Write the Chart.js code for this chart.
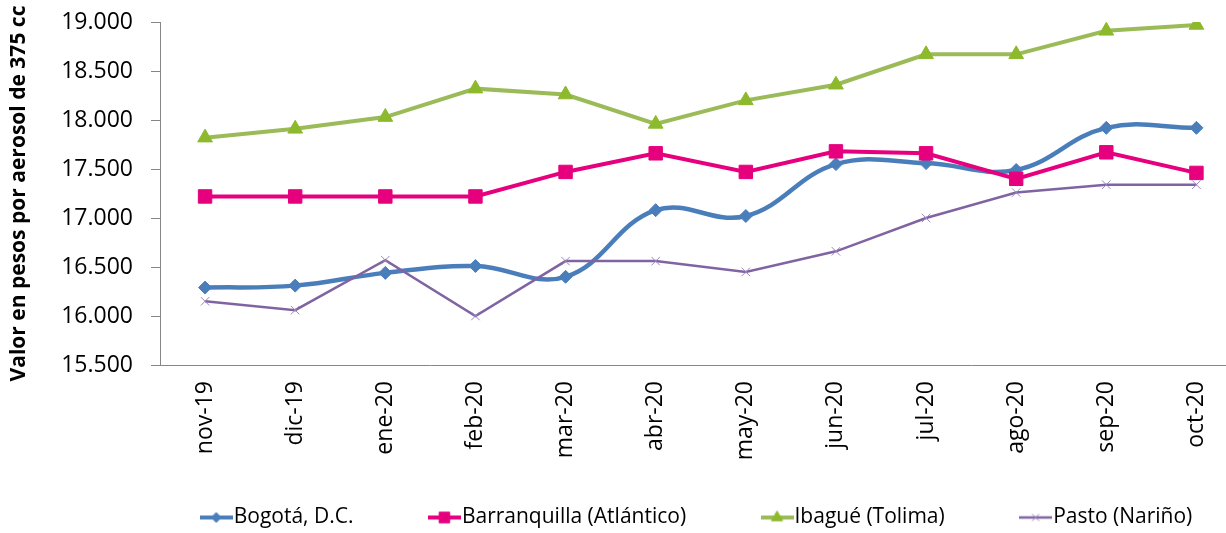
<!DOCTYPE html>
<html>
<head>
<meta charset="utf-8">
<script src="https://cdn.jsdelivr.net/npm/chart.js@4.4.1/dist/chart.umd.min.js"></script>
<style>
  html, body { margin: 0; padding: 0; background: #fff; overflow: hidden; }
  #wrap { width: 1252px; height: 538px; position: relative; }
</style>
</head>
<body>
<div id="wrap"><canvas id="myChart"></canvas></div>
<script>
let months = ["nov-19", "dic-19", "ene-20", "feb-20", "mar-20", "abr-20",
  "may-20", "jun-20", "jul-20", "ago-20", "sep-20", "oct-20"];

let bogota = [16290, 16310, 16440, 16510, 16400, 17080, 17020, 17550, 17560, 17490, 17920, 17920];
let barranquilla = [17220, 17220, 17220, 17220, 17470, 17660, 17470, 17680, 17660, 17400, 17670, 17460];
let ibague = [17820, 17910, 18030, 18320, 18260, 17960, 18200, 18360, 18670, 18670, 18910, 18970];
let pasto = [16150, 16060, 16570, 16000, 16560, 16560, 16450, 16660, 17000, 17260, 17340, 17340];

let seriesNames = ["Bogotá, D.C.", "Barranquilla (Atlántico)", "Ibagué (Tolima)", "Pasto (Nariño)"];

let font = "'Open Sans', 'DejaVu Sans', sans-serif";
let axisColor = "#868686";

// little line + marker icons for the legend
function legendIcon(color, markerFill, markerStroke, style, radius, lineWidth) {
  let c = document.createElement("canvas");
  c.width = 33;
  c.height = 16;
  let ctx = c.getContext("2d");
  ctx.strokeStyle = color;
  ctx.lineWidth = lineWidth;
  ctx.beginPath();
  ctx.moveTo(0, 8);
  ctx.lineTo(33, 8);
  ctx.stroke();
  ctx.fillStyle = markerFill;
  ctx.strokeStyle = markerStroke;
  ctx.lineWidth = 1;
  Chart.helpers.drawPoint(ctx, { pointStyle: style, radius: radius, rotation: 0, borderWidth: 1 }, 16.5, 8);
  return c;
}

let icons = [
  legendIcon("#4A7EBB", "#4A7EBB", "#4A7EBB", "rectRot", 5, 4),
  legendIcon("#E6007E", "#E6007E", "#E6007E", "rect", 7.5, 4),
  legendIcon("#9BBB59", "#8DB92C", "#8DB92C", "triangle", 6.5, 4),
  legendIcon("#8064A2", "#9B87BE", "#9B87BE", "crossRot", 5, 2.5),
];

let gap = "\u2003\u2003\u2003  ";

let myChart = document.getElementById("myChart").getContext("2d");

var chart = new Chart(myChart, {
  type: "line",
  data: {
    labels: months,
    datasets: [
      {
        label: seriesNames[0],
        data: bogota,
        borderColor: "#4A7EBB",
        backgroundColor: "#4A7EBB",
        borderWidth: 4.5,
        tension: 0.4,
        pointStyle: "rectRot",
        pointRadius: 6.5,
        pointBorderWidth: 1,
        order: 4,
      },
      {
        label: seriesNames[1],
        data: barranquilla,
        borderColor: "#E6007E",
        backgroundColor: "#E6007E",
        borderWidth: 4,
        pointStyle: "rect",
        pointRadius: 9.5,
        pointBorderWidth: 1,
        order: 3,
      },
      {
        label: seriesNames[2],
        data: ibague,
        borderColor: "#9BBB59",
        backgroundColor: "#8DB92C",
        pointBorderColor: "#8DB92C",
        borderWidth: 4,
        pointStyle: "triangle",
        pointRadius: 8.5,
        pointBorderWidth: 1,
        order: 2,
      },
      {
        label: seriesNames[3],
        data: pasto,
        borderColor: "#8064A2",
        backgroundColor: "#9B87BE",
        pointBorderColor: "#9B87BE",
        borderWidth: 2.5,
        pointStyle: "crossRot",
        pointRadius: 6,
        pointBorderWidth: 1,
        order: 1,
      },
    ],
  },
  options: {
    responsive: true,
    maintainAspectRatio: false,
    animation: false,
    layout: { padding: { top: 22, left: 0, right: 0, bottom: 0 } },
    plugins: {
      tooltip: { enabled: false },
      legend: {
        position: "bottom",
        fullSize: false,
        labels: {
          usePointStyle: true,
          pointStyleWidth: 14,
          padding: 10,
          color: "#000",
          font: { family: font, size: 21 },
          generateLabels: function (c) {
            let items = Chart.defaults.plugins.legend.labels.generateLabels(c);
            items.sort((a, b) => a.datasetIndex - b.datasetIndex);
            items.forEach((item, i) => {
              item.pointStyle = icons[item.datasetIndex];
              if (i < items.length - 1) item.text = item.text + gap;
            });
            return items;
          },
        },
      },
    },
    scales: {
      x: {
        offset: true,
        grid: { display: false },
        border: { display: true, color: axisColor, width: 1 },
        ticks: {
          minRotation: 90,
          maxRotation: 90,
          padding: 8,
          color: "#000",
          font: { family: font, size: 23 },
        },
        afterFit: (s) => { s.height = 132; s.paddingTop = 0; s.paddingBottom = 0; },
      },
      y: {
        min: 15500,
        max: 19000,
        grid: { display: true, drawOnChartArea: false, drawTicks: true, tickLength: 9, color: axisColor },
        border: { display: true, color: axisColor, width: 1 },
        ticks: {
          stepSize: 500,
          padding: 18,
          color: "#000",
          font: { family: font, size: 23 },
          callback: (v) => (v / 1000).toFixed(3),
        },
        title: {
          display: true,
          text: "Valor en pesos por aerosol de 375 cc",
          color: "#000",
          font: { family: font, size: 21, weight: "bold" },
          padding: { top: 6, bottom: 0 },
        },
        afterFit: (s) => { s.width = 160; s.paddingTop = 0; s.paddingBottom = 0; },
      },
    },
  },
});
</script>
</body>
</html>
